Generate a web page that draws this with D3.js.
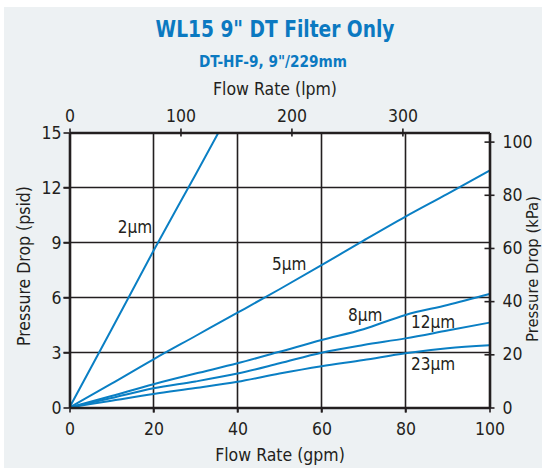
<!DOCTYPE html>
<html><head><meta charset="utf-8">
<script src="https://cdn.jsdelivr.net/npm/d3@7"></script>
<style>
html,body{margin:0;padding:0;background:#fff;}
svg{display:block;}
text{font-family:"Liberation Sans Narrow","DejaVu Sans Condensed","Roboto Condensed",sans-serif;}
</style></head>
<body>
<svg id="chart" width="542" height="468"></svg>
<script>
const title = 'WL15 9" DT Filter Only';
const subtitle = 'DT-HF-9, 9"/229mm';
const flow = [0,10,20,30,40,50,60,70,80,90,100];
const flow2 = [0,10,20,30,40];
const dp2um  = [0,4.25,8.55,12.7,16.9];
const dp5um  = [0,1.3,2.63,3.9,5.17,6.45,7.76,9.1,10.41,11.65,12.92];
const dp8um  = [0,0.63,1.27,1.85,2.41,3.04,3.68,4.27,5.05,5.59,6.19];
const dp12um = [0,0.52,1.05,1.42,1.85,2.41,2.99,3.41,3.77,4.2,4.63];
const dp23um = [0,0.37,0.74,1.06,1.4,1.85,2.25,2.59,2.96,3.23,3.39];
const gpmTicks = [0,20,40,60,80,100];
const psiTicks = [0,3,6,9,12,15];
const lpmTicks = [0,100,200,300];
const kpaTicks = [0,20,40,60,80,100];
const seriesLabels = [
  {name:"2µm", gpm:11.5, psi:9.52},
  {name:"5µm", gpm:48.2, psi:7.5},
  {name:"8µm", gpm:66.3, psi:4.72},
  {name:"12µm", gpm:81.3, psi:4.34},
  {name:"23µm", gpm:81.3, psi:2.05}
];
const series = [
  {x:flow2, y:dp2um},
  {x:flow, y:dp5um},
  {x:flow, y:dp8um},
  {x:flow, y:dp12um},
  {x:flow, y:dp23um}
];
const GPM_TO_LPM = 3.785, PSI_TO_KPA = 6.895;

const svg = d3.select("#chart");
const L=69.5, R=489.5, T=132.5, B=407.5;
const x = d3.scaleLinear().domain([0,100]).range([L,R]);
const y = d3.scaleLinear().domain([0,15]).range([B,T]);
const xl = d3.scaleLinear().domain([0,100*GPM_TO_LPM]).range([L,R]);
const yk = d3.scaleLinear().domain([0,15*PSI_TO_KPA]).range([B,T]);

const blue = "#0a7fc4", dark = "#231f20", txt="#231f20";

svg.append("rect").attr("x",4).attr("y",7).attr("width",538).attr("height",461).attr("fill","#edf1f3");
svg.append("rect").attr("x",L).attr("y",T).attr("width",R-L).attr("height",B-T).attr("fill","#fff");

svg.append("text").attr("transform","translate(275,37) scale(0.9,1)").attr("text-anchor","middle")
  .attr("font-size",23).attr("font-weight","bold").attr("fill","#0b79c1").text(title);
svg.append("text").attr("transform","translate(273,67) scale(0.92,1)").attr("text-anchor","middle")
  .attr("font-size",16.5).attr("font-weight","bold").attr("fill","#0b79c1").text(subtitle);

// grid
svg.append("g").selectAll("line").data(gpmTicks.slice(1,-1)).join("line")
  .attr("x1",d=>x(d)).attr("x2",d=>x(d)).attr("y1",T).attr("y2",B+5)
  .attr("stroke",dark).attr("stroke-width",1.6);
svg.append("g").selectAll("line").data(psiTicks.slice(1,-1)).join("line")
  .attr("x1",L-6).attr("x2",R).attr("y1",d=>y(d)).attr("y2",d=>y(d))
  .attr("stroke",dark).attr("stroke-width",1.6);

// series
svg.append("clipPath").attr("id","clip").append("rect")
  .attr("x",L).attr("y",T).attr("width",R-L).attr("height",B-T);
const line = d3.line().x(d=>x(d[0])).y(d=>y(d[1])).curve(d3.curveMonotoneX);
svg.append("g").attr("clip-path","url(#clip)").selectAll("path").data(series).join("path")
  .attr("d",s=>line(s.x.map((v,i)=>[v,s.y[i]])))
  .attr("fill","none").attr("stroke",blue).attr("stroke-width",2);

// axes
const fs = 17.5;
const gL = svg.append("g").attr("transform",`translate(${L},0)`)
  .call(d3.axisLeft(y).tickValues(psiTicks).tickSize(6).tickSizeOuter(0).tickPadding(2));
const gB = svg.append("g").attr("transform",`translate(0,${B})`)
  .call(d3.axisBottom(x).tickValues(gpmTicks).tickSize(5).tickSizeOuter(0).tickPadding(10));
const gT = svg.append("g").attr("transform",`translate(0,${T})`)
  .call(d3.axisTop(xl).tickValues(lpmTicks).tickSize(4).tickSizeOuter(0).tickPadding(7));
gT.selectAll(".tick line").attr("y2",-4).attr("y1",4);
const gR = svg.append("g").attr("transform",`translate(${R},0)`)
  .call(d3.axisRight(yk).tickValues(kpaTicks).tickSize(5).tickSizeOuter(0).tickPadding(8));
gR.selectAll(".tick line").attr("x1",-5).attr("x2",5);
[gL,gB,gT,gR].forEach(g=>{
  g.select(".domain").attr("stroke",dark).attr("stroke-width",2.6);
  g.selectAll(".tick line").attr("stroke",dark).attr("stroke-width",1.6);
  g.selectAll(".tick text").attr("font-size",fs).attr("fill",txt)
    .style("font-family",'"Liberation Sans Narrow","DejaVu Sans Condensed",sans-serif');
});
gL.selectAll(".tick text").attr("dy","0.35em");

// axis titles
svg.append("text").attr("x",275).attr("y",95).attr("text-anchor","middle").attr("font-size",17.5).attr("fill",txt).text("Flow Rate  (lpm)");
svg.append("text").attr("x",280).attr("y",461).attr("text-anchor","middle").attr("font-size",17.5).attr("fill",txt).text("Flow Rate  (gpm)");
svg.append("text").attr("transform","translate(30,266) rotate(-90)").attr("text-anchor","middle").attr("font-size",17.5).attr("fill",txt).text("Pressure Drop  (psid)");
svg.append("text").attr("transform","translate(537.5,269) rotate(-90)").attr("text-anchor","middle").attr("font-size",16.5).attr("fill",txt).text("Pressure Drop  (kPa)");

// series labels
svg.append("g").selectAll("text").data(seriesLabels).join("text")
  .attr("x",d=>x(d.gpm)).attr("y",d=>y(d.psi)).attr("font-size",17).attr("fill",txt).text(d=>d.name);
</script>
</body></html>
